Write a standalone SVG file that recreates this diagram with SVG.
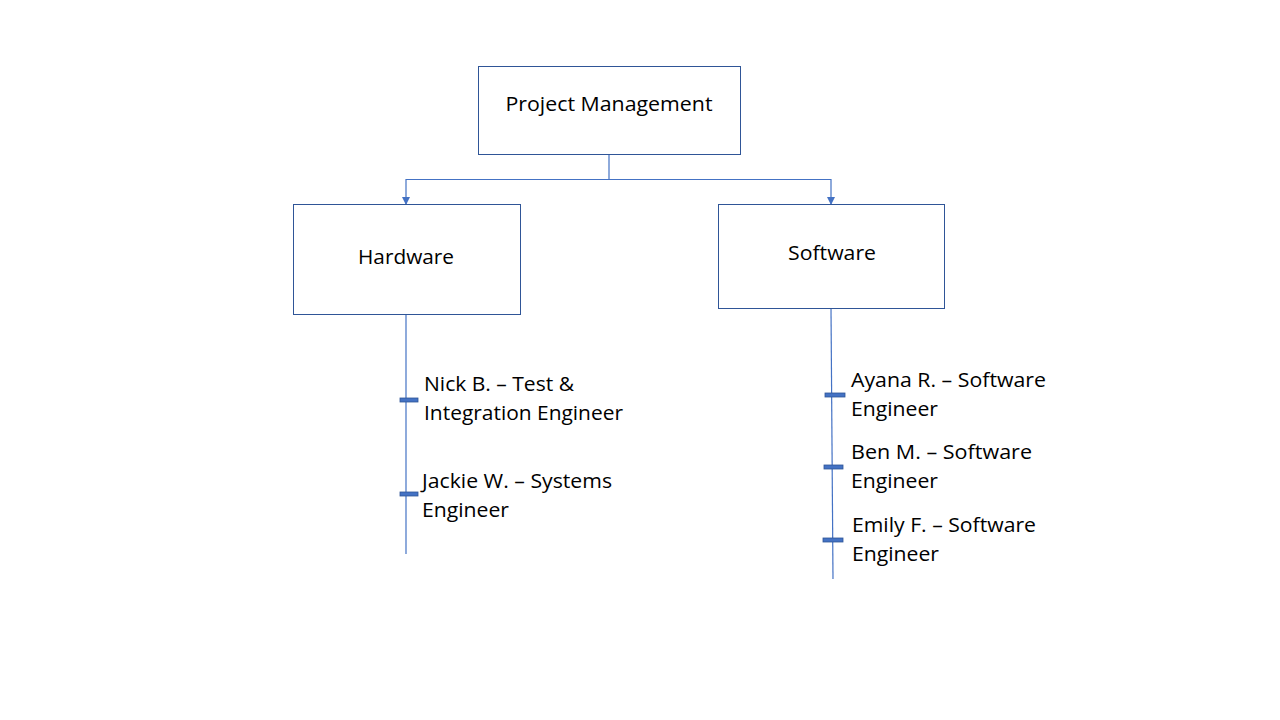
<svg xmlns="http://www.w3.org/2000/svg" width="1280" height="720" viewBox="0 0 1280 720">
<style>
.box{fill:#ffffff;stroke:#2F5597;stroke-width:1}
.lbl{font-family:"Open Sans","Liberation Sans",sans-serif;font-size:20px;fill:#000000}
.conn{fill:none;stroke:#4472C4;stroke-width:1.2}
.tick{fill:#4472C4;stroke:#2F5597;stroke-width:0.8}
</style>
<defs>
<marker id="arrow" markerWidth="8" markerHeight="8" refX="7" refY="4" orient="auto" markerUnits="userSpaceOnUse" viewBox="0 0 8 8">
<path d="M0,0 L8,4 L0,8 Z" fill="#4472C4"/>
</marker>
</defs>
<rect width="1280" height="720" fill="#ffffff"/>
<g id="connectors">
<path class="conn" d="M609,154.5 V179.5 H406 V204" marker-end="url(#arrow)"/>
<path class="conn" d="M609,179.5 H831 V204" marker-end="url(#arrow)"/>
<line class="conn" x1="406" y1="314.5" x2="406" y2="554"/>
<line class="conn" x1="831" y1="308.5" x2="833" y2="579"/>
<rect class="tick" x="400" y="398" width="18" height="4"/>
<rect class="tick" x="400" y="492" width="18" height="4"/>
<rect class="tick" x="825" y="393" width="20" height="4"/>
<rect class="tick" x="824" y="465" width="19" height="4"/>
<rect class="tick" x="823" y="538" width="20" height="4"/>
</g>
<g id="node-pm">
<rect class="box" x="478.5" y="66.5" width="262" height="88"/>
<text class="lbl" x="609" y="111" text-anchor="middle" textLength="207" lengthAdjust="spacingAndGlyphs">Project Management</text>
</g>
<g id="node-hardware">
<rect class="box" x="293.5" y="204.5" width="227" height="110"/>
<text class="lbl" x="406" y="264" text-anchor="middle" textLength="96" lengthAdjust="spacingAndGlyphs">Hardware</text>
</g>
<g id="node-software">
<rect class="box" x="718.5" y="204.5" width="226" height="104"/>
<text class="lbl" x="832" y="260" text-anchor="middle" textLength="88" lengthAdjust="spacingAndGlyphs">Software</text>
</g>
<g id="node-nick">
<text class="lbl" x="424" y="391" textLength="150" lengthAdjust="spacingAndGlyphs">Nick B. – Test &amp;</text>
<text class="lbl" x="424" y="420" textLength="199" lengthAdjust="spacingAndGlyphs">Integration Engineer</text>
</g>
<g id="node-jackie">
<text class="lbl" x="422" y="488" textLength="190" lengthAdjust="spacingAndGlyphs">Jackie W. – Systems</text>
<text class="lbl" x="422" y="517" textLength="87" lengthAdjust="spacingAndGlyphs">Engineer</text>
</g>
<g id="node-ayana">
<text class="lbl" x="851" y="387" textLength="195" lengthAdjust="spacingAndGlyphs">Ayana R. – Software</text>
<text class="lbl" x="851" y="416" textLength="87" lengthAdjust="spacingAndGlyphs">Engineer</text>
</g>
<g id="node-ben">
<text class="lbl" x="851" y="459" textLength="181" lengthAdjust="spacingAndGlyphs">Ben M. – Software</text>
<text class="lbl" x="851" y="488" textLength="87" lengthAdjust="spacingAndGlyphs">Engineer</text>
</g>
<g id="node-emily">
<text class="lbl" x="852" y="532" textLength="184" lengthAdjust="spacingAndGlyphs">Emily F. – Software</text>
<text class="lbl" x="852" y="561" textLength="87" lengthAdjust="spacingAndGlyphs">Engineer</text>
</g>
</svg>
